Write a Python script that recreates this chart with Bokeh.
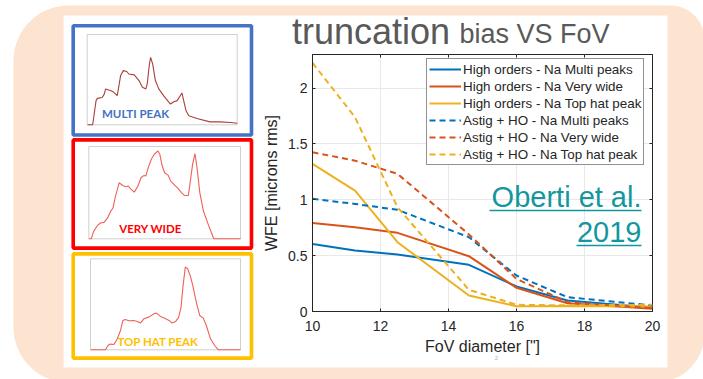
import numpy as np
from bokeh.plotting import figure
from bokeh.models import Range1d, LinearAxis, Legend, LegendItem, FixedTicker
from bokeh.core.properties import value
from bokeh.embed import file_html
from bokeh.resources import INLINE

# ---------------- data ----------------
fov = [10, 11.25, 12.5, 14.6, 16, 17.5, 20]
ho_multi = [0.605, 0.546, 0.51, 0.418, 0.224, 0.098, 0.033]
ho_wide = [0.793, 0.754, 0.704, 0.495, 0.212, 0.074, 0.024]
ho_tophat = [1.321, 1.082, 0.62, 0.143, 0.047, 0.05, 0.045]
astig_multi = [1.008, 0.963, 0.91, 0.665, 0.322, 0.128, 0.054]
astig_wide = [1.425, 1.35, 1.232, 0.69, 0.292, 0.083, 0.03]
astig_tophat = [2.225, 1.739, 0.933, 0.194, 0.06, 0.055, 0.06]
series_labels = ["High orders - Na Multi peaks", "High orders - Na Very wide",
                 "High orders - Na Top hat peak", "Astig + HO - Na Multi peaks",
                 "Astig + HO - Na Very wide", "Astig + HO - Na Top hat peak"]
x_ticks = [10, 12, 14, 16, 18, 20]
y_ticks = [0, 0.5, 1, 1.5, 2]
y_tick_labels = ["0", "0.5", "1", "1.5", "2"]

# sodium profile thumbnails (altitude km, density)
t1_alt = [78.05, 78.8, 79.3, 79.5, 80.2, 80.5, 80.7, 81.5, 81.9, 82.4, 82.7, 82.9, 83.3, 83.8,
          84.1, 84.9, 85.6, 86.1, 86.6, 86.8, 87.1, 87.3, 87.6, 88.0, 88.5, 89.2, 90.0, 90.2,
          90.7, 91.2, 91.4, 91.9, 92.1, 92.5, 92.9, 94.1, 96.0, 97.5, 99.0, 100.0]
t1_dens = [0, 0, 0.00107, 0.00117, 0.00121, 0.00136, 0.00159, 0.00151, 0.00144, 0.00129,
           0.00181, 0.00218, 0.0024, 0.00236, 0.00225, 0.00221, 0.00196, 0.00166, 0.00159,
           0.00181, 0.00262, 0.00299, 0.0027, 0.00196, 0.00159, 0.00129, 0.00099, 0.00092,
           0.00102, 0.00107, 0.00117, 0.00141, 0.00114, 0.00062, 0.0004, 0.00028, 0.00013,
           0.00013, 0.0001, 0.00007]
t2_alt = [80, 80.4, 80.8, 81.4, 81.9, 82.5, 83.1, 83.6, 84.0, 84.4, 85.0, 85.6, 86.1, 86.5,
          86.9, 87.5, 88.1, 88.6, 89.1, 89.4, 89.8, 90.3, 90.8, 91.4, 91.7, 92.1, 92.5, 93.1,
          93.5, 94.2, 94.7, 95.3, 95.8, 96.4, 96.7, 97.1, 97.5, 97.8, 98.3, 98.9, 99.4, 99.9,
          100.6, 105]
t2_dens = [0, 0, 0.084, 0.149, 0.18, 0.187, 0.237, 0.313, 0.351, 0.485, 0.637, 0.607, 0.592,
           0.6, 0.569, 0.531, 0.6, 0.695, 0.721, 0.714, 0.809, 0.905, 0.962, 1.0, 0.962, 0.828,
           0.752, 0.721, 0.656, 0.607, 0.573, 0.523, 0.492, 0.492, 0.637, 0.847, 0.969, 0.828,
           0.523, 0.313, 0.218, 0.122, 0, 0]
t3_alt = [80, 82.5, 82.9, 83.3, 83.9, 84.4, 85.0, 85.4, 85.8, 86.4, 87.2, 87.8, 88.3, 88.9,
          89.7, 90.6, 91.0, 91.6, 92.2, 93.1, 93.6, 94.2, 94.7, 95.1, 95.4, 95.8, 96.2, 96.7,
          97.1, 97.7, 98.2, 98.8, 99.3, 100.0, 100.7, 101.3, 105]
t3_dens = [0, 0, 0.052, 0.069, 0.065, 0.121, 0.234, 0.355, 0.367, 0.351, 0.355, 0.343, 0.323,
           0.375, 0.395, 0.435, 0.444, 0.407, 0.387, 0.355, 0.323, 0.343, 0.395, 0.516, 0.758,
           1.0, 0.98, 0.879, 0.758, 0.556, 0.415, 0.383, 0.294, 0.133, 0.052, 0, 0]
thumb_names = ["MULTI PEAK", "VERY WIDE", "TOP HAT PEAK"]

# ---------------- styles ----------------
PEACH = "#fce4d0"
DARK = "#262626"
TEAL = "#13979e"
colors = ["#0072BD", "#D95319", "#EDB120"]

W, H = 703, 379
FX0, FX1, FY0, FY1 = 312, 652, 311, 54   # main frame in canvas pixels
MID = 0.3465  # baseline offset (em) of a middle-anchored Liberation Sans line

p = figure(width=W, height=H, x_range=Range1d(10, 20), y_range=Range1d(0, 2.3),
           output_backend="svg", toolbar_location=None,
           min_border_left=FX0, min_border_right=W - FX1,
           min_border_top=FY1, min_border_bottom=H - FY0)
p.background_fill_color = "white"
p.border_fill_color = "white"
p.outline_line_color = DARK
p.outline_line_width = 1


def page_range(d0, d1, p0, p1, f0, f1):
    k = (d1 - d0) / (p1 - p0)
    return Range1d(d0 + (f0 - p0) * k, d0 + (f1 - p0) * k)


p.extra_x_ranges = {"px": Range1d(FX0, FX1)}
p.extra_y_ranges = {"py": Range1d(FY0, FY1)}
PX = dict(x_range_name="px", y_range_name="py", level="overlay")

# axes
p.xaxis.ticker = FixedTicker(ticks=x_ticks)
p.yaxis.ticker = FixedTicker(ticks=y_ticks)
p.yaxis.major_label_overrides = {t: l for t, l in zip(y_ticks, y_tick_labels)}
for ax in (p.xaxis[0], p.yaxis[0]):
    ax.major_tick_in = 3
    ax.major_tick_out = 0
    ax.minor_tick_line_color = None
    ax.axis_line_color = DARK
    ax.major_tick_line_color = DARK
    ax.major_label_text_font = "Liberation Sans"
    ax.major_label_text_font_size = "14px"
    ax.major_label_text_color = DARK
    ax.axis_label_text_font = "Liberation Sans"
    ax.axis_label_text_font_size = "16px"
    ax.axis_label_text_font_style = "normal"
    ax.axis_label_text_color = DARK
p.xaxis.axis_label = 'FoV diameter ["]'
p.yaxis.axis_label = "WFE [microns rms]"
p.xaxis.major_label_standoff = 9
p.xaxis.axis_label_standoff = 4
p.yaxis.major_label_standoff = 5
p.yaxis.axis_label_standoff = 5

top_ax = LinearAxis(ticker=FixedTicker(ticks=x_ticks), major_label_text_color=None,
                    axis_line_color=None, major_tick_in=3, major_tick_out=0,
                    minor_tick_line_color=None, major_tick_line_color=DARK)
right_ax = LinearAxis(ticker=FixedTicker(ticks=y_ticks), major_label_text_color=None,
                      axis_line_color=None, major_tick_in=3, major_tick_out=0,
                      minor_tick_line_color=None, major_tick_line_color=DARK)
p.add_layout(top_ax, "above")
p.add_layout(right_ax, "right")

p.xgrid.grid_line_color = "#e8e8e8"
p.ygrid.grid_line_color = "#e8e8e8"

# series
series = [ho_multi, ho_wide, ho_tophat, astig_multi, astig_wide, astig_tophat]
items = []
for i, (vals, lab) in enumerate(zip(series, series_labels)):
    dash = "solid" if i < 3 else "6 4"
    r = p.line(fov, vals, line_color=colors[i % 3], line_width=2, line_dash=dash)
    items.append(LegendItem(label=lab, renderers=[r]))

legend = Legend(items=items, location=(114, 146), label_text_font="Liberation Sans",
                label_text_font_size="13.4px", label_text_color=DARK,
                label_height=16, glyph_height=16, glyph_width=32, spacing=1, padding=2,
                margin=0, label_standoff=2, border_line_color=DARK, border_line_width=1,
                background_fill_color="white", background_fill_alpha=1)
p.add_layout(legend)


# ---------------- slide decoration ----------------
def rounded_rect(x0, y0, x1, y1, rtl, rtr, rbr, rbl, n=16):
    t = np.linspace(0, np.pi / 2, n)
    xs = np.concatenate([x0 + rtl - rtl * np.cos(t), x1 - rtr + rtr * np.sin(t),
                         x1 - rbr + rbr * np.cos(t), x0 + rbl - rbl * np.sin(t)])
    ys = np.concatenate([y0 + rtl - rtl * np.sin(t), y0 + rtr - rtr * np.cos(t),
                         y1 - rbr + rbr * np.sin(t), y1 - rbl + rbl * np.cos(t)])
    return list(np.clip(xs, 0, W)), list(np.clip(ys, 0, H))


ox, oy = rounded_rect(13, 5, 704, 382, 55, 34, 49, 55)
ix, iy = [63, 63, 667, 667], [15, 367, 367, 15]
p.multi_polygons(xs=[[[ox, ix]]], ys=[[[oy, iy]]], fill_color=PEACH, line_color=None, **PX)

# thumbnails
box_l = [72.7, 72.7, 72.7]
box_r = [251.0, 251.0, 251.0]
box_t = [25.3, 139.4, 253.4]
box_b = [134.5, 247.6, 357.6]
box_colors = ["#4472C4", "#FF0000", "#FFC000"]
thumb_data = [(t1_alt, t1_dens, 78, 100, 0.004, (86.7, 236.7, 124.3, 34.0)),
              (t2_alt, t2_dens, 80, 105, 1.05, (88.3, 240.0, 238.3, 146.0)),
              (t3_alt, t3_dens, 80, 105, 1.1, (90.0, 240.0, 349.3, 258.3))]
label_x = [135, 150, 157.5]
label_y = [112.5, 227.5, 340.5]
curve_colors = ["#a8403c", "#f0605a", "#f0605a"]

for k, (alt, dens, a0, a1, ymax, (px0, px1, py0, py1)) in enumerate(thumb_data):
    xn, yn = f"t{k}x", f"t{k}y"
    p.extra_x_ranges[xn] = page_range(a0, a1, px0, px1, FX0, FX1)
    p.extra_y_ranges[yn] = page_range(0, ymax, py0, py1, FY0, FY1)
    p.quad(left=[a0], right=[a1], bottom=[0], top=[ymax], x_range_name=xn, y_range_name=yn,
           fill_color=None, line_color="#c4c4c4", line_width=0.8, level="overlay")
    p.line(alt, dens, x_range_name=xn, y_range_name=yn, line_color=curve_colors[k],
           line_width=1.1, level="overlay")

p.quad(left=box_l, right=box_r, top=box_t, bottom=box_b, fill_color=None,
       line_color=box_colors, line_width=3.6, **PX)
p.text(x=label_x, y=label_y, text=thumb_names, text_color=box_colors,
       text_font=value("Lato"), text_font_style="bold", text_font_size="11.5px",
       text_align="center", text_baseline="middle", **PX)

# titles and citation (baselines at 43, 206.7, 241.7)
p.text(x=[291.5], y=[43 - MID * 36], text=["truncation"], text_font=value("Liberation Sans"),
       text_font_size="36px", text_color="#595959", text_baseline="middle", **PX)
p.text(x=[459], y=[43 - MID * 27], text=["bias VS FoV"], text_font=value("Liberation Sans"),
       text_font_size="27px", text_color="#595959", text_baseline="middle", **PX)
p.text(x=[641, 641], y=[206.7 - MID * 29, 241.7 - MID * 29], text=["Oberti et al.", "2019"],
       text_font=value("Liberation Sans"), text_font_size="29px", text_color=TEAL,
       text_align="right", text_baseline="middle", **PX)
p.segment(x0=[489, 576], y0=[210, 245], x1=[641, 641], y1=[210, 245], line_color=TEAL,
          line_width=1.6, **PX)
p.text(x=[496], y=[357], text=["2"], text_font=value("Liberation Sans"),
       text_font_size="6px", text_color="#b0b0b0", text_align="center",
       text_baseline="middle", **PX)

open("out.html", "w").write(file_html(p, INLINE))
